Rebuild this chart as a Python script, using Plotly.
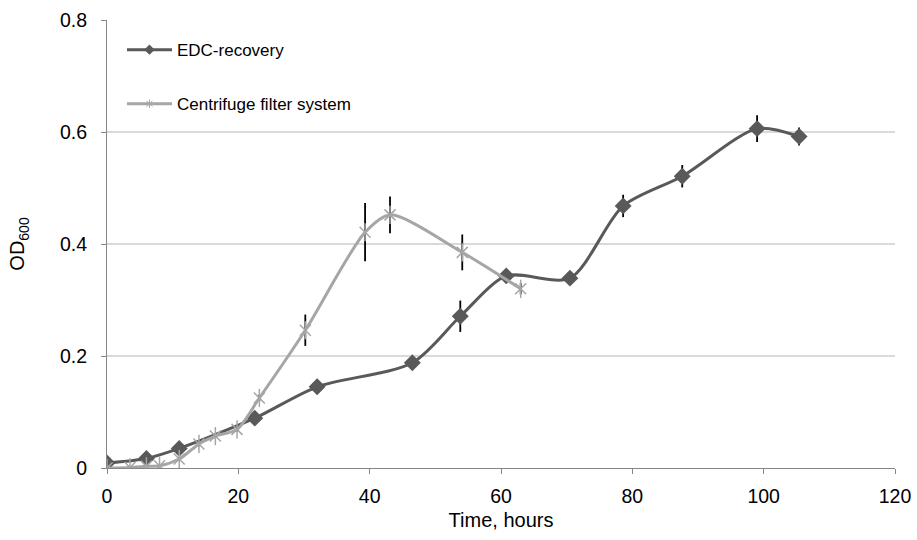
import plotly.graph_objects as go

# EDC-recovery series
edc_time = [0, 6, 11, 22.5, 32, 46.5, 53.8, 60.8, 70.5, 78.6, 87.6, 99, 105.4]
edc_od = [0.009, 0.017, 0.035, 0.089, 0.145, 0.188, 0.271, 0.343, 0.339, 0.468, 0.521, 0.606, 0.592]
edc_err = [0.003, 0.003, 0.004, 0.012, 0.006, 0.006, 0.028, 0.008, 0.006, 0.02, 0.02, 0.024, 0.016]

# Centrifuge filter system series
cf_time = [0, 3.5, 6, 8, 11, 14, 16.5, 19.8, 23.2, 30.2, 39.3, 43.1, 54.1, 63]
cf_od = [0.0, 0.001, 0.003, 0.004, 0.016, 0.043, 0.057, 0.069, 0.125, 0.246, 0.421, 0.452, 0.385, 0.32]
cf_err = [0.002, 0.002, 0.002, 0.002, 0.003, 0.004, 0.004, 0.004, 0.006, 0.028, 0.052, 0.033, 0.032, 0.01]

x_ticks = [0, 20, 40, 60, 80, 100, 120]
y_ticks = [0, 0.2, 0.4, 0.6, 0.8]
y_tick_labels = ["0", "0.2", "0.4", "0.6", "0.8"]

FONT = "Liberation Sans, Arial, sans-serif"
DARK = "#595959"
LIGHT = "#A6A6A6"

fig = go.Figure()
fig.add_trace(go.Scatter(
    x=edc_time, y=edc_od, name="EDC-recovery", mode="lines+markers",
    line=dict(color=DARK, width=3, shape="spline", smoothing=0.8),
    marker=dict(symbol="diamond", size=13, color=DARK),
    error_y=dict(type="data", array=edc_err, visible=True, color="black", thickness=1.8, width=0),
    showlegend=False,
))
fig.add_trace(go.Scatter(
    x=cf_time, y=cf_od, name="Centrifuge filter system", mode="lines+markers",
    line=dict(color=LIGHT, width=3, shape="spline", smoothing=0.8),
    marker=dict(symbol="x-thin-open", size=11, color=LIGHT, line=dict(color=LIGHT, width=1.5)),
    error_y=dict(type="data", array=cf_err, visible=True, color="black", thickness=1.8, width=0),
    showlegend=False,
))
# vertical stroke of the star marker (Excel-style star = x + |)
fig.add_trace(go.Scatter(
    x=cf_time, y=cf_od, mode="markers", showlegend=False, hoverinfo="skip",
    marker=dict(symbol="line-ns-open", size=13, color=LIGHT, line=dict(color=LIGHT, width=1.5)),
))
# legend-only entries with small marker glyphs
fig.add_trace(go.Scatter(
    x=[None], y=[None], name="EDC-recovery", mode="lines+markers", legendgroup="edc",
    line=dict(color=DARK, width=3), marker=dict(symbol="diamond", size=8, color=DARK),
))
fig.add_trace(go.Scatter(
    x=[None], y=[None], name="Centrifuge filter system", mode="lines+markers", legendgroup="cf",
    line=dict(color=LIGHT, width=3),
    marker=dict(symbol="asterisk-open", size=7, color=LIGHT, line=dict(color=LIGHT, width=1)),
))

fig.update_layout(
    width=917, height=540,
    margin=dict(l=107, r=22, t=20, b=72),
    paper_bgcolor="white", plot_bgcolor="white",
    font=dict(family=FONT, size=19.5, color="black"),
    xaxis=dict(range=[0, 120], tickvals=x_ticks, showgrid=False, showline=True, automargin=False,
               linecolor="#868686", linewidth=1, ticks="outside", ticklen=5, tickcolor="#868686",
               ticklabelstandoff=6, ticklabeloverflow="allow",
               title=dict(text="Time, hours", standoff=6, font=dict(size=20)), zeroline=False),
    yaxis=dict(range=[0, 0.8], tickvals=y_ticks, ticktext=y_tick_labels, showgrid=True, automargin=False,
               gridcolor="#D9D9D9", gridwidth=1.5, showline=True, linecolor="#868686", linewidth=1,
               ticks="outside", ticklen=5, tickcolor="#868686", ticklabelstandoff=10,
               ticklabeloverflow="allow",
               title=dict(text="OD<sub>600</sub>", standoff=29, font=dict(size=20)), zeroline=False),
    legend=dict(x=0.019, y=0.973, xanchor="left", yanchor="top",
                font=dict(family=FONT, size=17, color="black"), bgcolor="rgba(0,0,0,0)",
                itemwidth=45, tracegroupgap=29),
)

fig.write_html("out.html", config={"displayModeBar": False},
               post_script="document.body.style.margin='0';")
